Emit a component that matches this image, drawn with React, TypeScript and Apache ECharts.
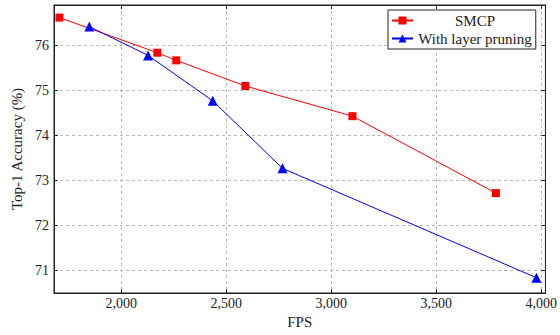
import React, { useEffect, useRef } from "react";
import * as echarts from "echarts";

const smcpFps = [1706, 2172, 2262, 2591, 3101, 3784];
const smcpAcc = [76.62, 75.84, 75.67, 75.1, 74.43, 72.72];
const layerFps = [1848, 2128, 2436, 2768, 3977];
const layerAcc = [76.42, 75.78, 74.77, 73.27, 70.84];
const seriesNames = ["SMCP", "With layer pruning"];
const xLimits = [1680, 4020];
const yLimits = [70.5, 76.9];

const FONT = "Liberation Serif";

export default function App() {
  const ref = useRef<HTMLDivElement>(null);
  useEffect(() => {
    const chart = echarts.init(ref.current!, null, { renderer: "svg" });
    const axisLine = { show: true, lineStyle: { color: "#222", width: 1 } };
    const tick = { show: true, inside: true, length: 4, lineStyle: { color: "#222" } };
    const grid = { show: true, lineStyle: { color: "#b8b8b8", type: [3, 3], width: 1 } };
    const xFmt = (v: number) =>
      v % 500 === 0 ? v.toLocaleString("en-US") : "";
    const yFmt = (v: number) => (Math.abs(v - Math.round(v)) < 1e-6 ? String(Math.round(v)) : "");
    chart.setOption({
      animation: false,
      backgroundColor: "#fff",
      grid: { left: 54, right: 13, top: 5, bottom: 42, show: true, borderColor: "#222", borderWidth: 1 },
      legend: {
        orient: "vertical",
        left: 388,
        top: 10,
        padding: [3, 4, 3, 3],
        itemGap: 3,
        itemWidth: 21,
        itemHeight: 10,
        borderColor: "#222",
        borderWidth: 1,
        borderRadius: 0,
        backgroundColor: "#fff",
        data: seriesNames,
        formatter: (n: string) => `{t|${n}}`,
        textStyle: {
          fontFamily: FONT,
          fontSize: 15,
          color: "#222",
          padding: [0, 0, 0, -3],
          rich: { t: { fontFamily: FONT, fontSize: 15, color: "#222", width: 120, align: "center" } },
        },
      },
      xAxis: [
        {
          type: "value",
          min: xLimits[0],
          max: xLimits[1],
          splitNumber: 5,
          name: "FPS",
          nameLocation: "middle",
          nameGap: 21,
          nameTextStyle: { fontFamily: FONT, fontSize: 15, color: "#222" },
          axisLine,
          axisTick: tick,
          splitLine: grid,
          axisLabel: { formatter: xFmt, fontFamily: FONT, fontSize: 14, color: "#222", margin: 3 },
        },
        {
          type: "value",
          position: "top",
          min: xLimits[0],
          max: xLimits[1],
          splitNumber: 5,
          axisLine,
          axisTick: tick,
          splitLine: { show: false },
          axisLabel: { show: false },
        },
      ],
      yAxis: [
        {
          type: "value",
          min: yLimits[0],
          max: yLimits[1],
          splitNumber: 5,
          name: "Top-1 Accuracy (%)",
          nameLocation: "middle",
          nameGap: 27,
          nameTextStyle: { fontFamily: FONT, fontSize: 15, color: "#222" },
          axisLine,
          axisTick: tick,
          splitLine: grid,
          axisLabel: { formatter: yFmt, fontFamily: FONT, fontSize: 14, color: "#222", margin: 5 },
        },
        {
          type: "value",
          position: "right",
          min: yLimits[0],
          max: yLimits[1],
          splitNumber: 5,
          axisLine,
          axisTick: tick,
          splitLine: { show: false },
          axisLabel: { show: false },
        },
      ],
      series: [
        {
          name: seriesNames[0],
          type: "line",
          data: smcpFps.map((f, i) => [f, smcpAcc[i]]),
          symbol: "rect",
          symbolSize: 8,
          color: "#ff0000",
          lineStyle: { width: 1, color: "#ff0000" },
          itemStyle: { color: "#ff0000" },
        },
        {
          name: seriesNames[1],
          type: "line",
          data: layerFps.map((f, i) => [f, layerAcc[i]]),
          symbol: "triangle",
          symbolSize: 10,
          color: "#0000ff",
          lineStyle: { width: 1, color: "#0000ff" },
          itemStyle: { color: "#0000ff" },
        },
      ],
    });
    return () => chart.dispose();
  }, []);
  return (
    <div
      ref={ref}
      style={{ position: "absolute", left: 0, top: 0, width: 560, height: 335 }}
    />
  );
}
